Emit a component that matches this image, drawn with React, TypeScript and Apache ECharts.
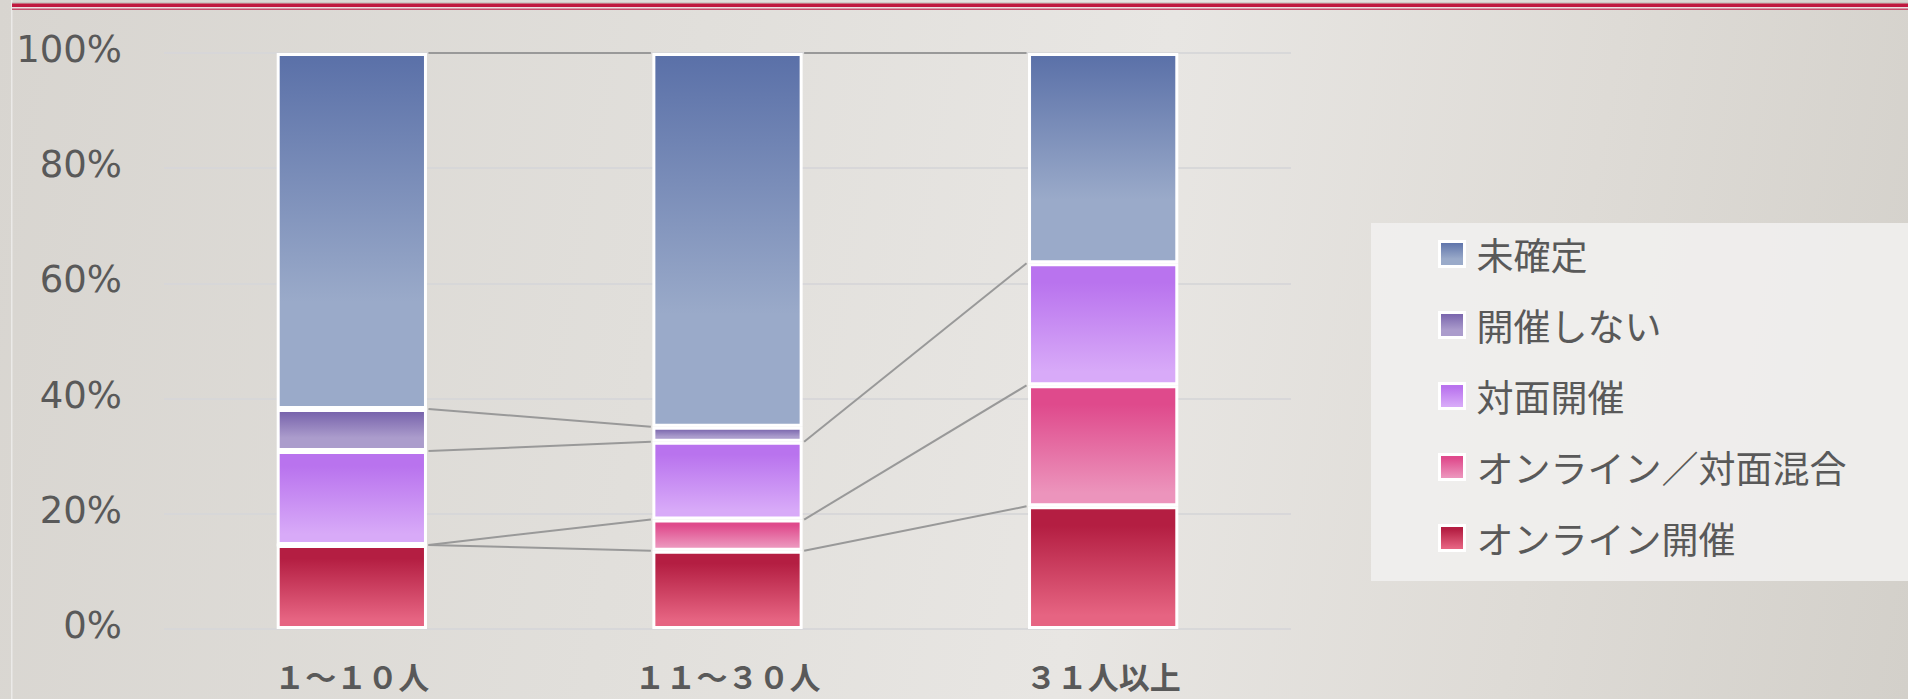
import React, { useEffect, useRef } from "react";
import * as echarts from "echarts";

const categories = ["１～１０人", "１１～３０人", "３１人以上"];
const onlineValues = [14.6, 13.6, 21.3];
const mixedValues = [0, 5.4, 21.0];
const inPersonValues = [16.3, 13.5, 21.2];
const notHeldValues: (number | null)[] = [7.3, 2.6, null];
const undecidedValues = [61.8, 64.9, 36.5];
const yTicks = [0, 20, 40, 60, 80, 100];

const seriesDefs = [
  { name: "オンライン開催", data: onlineValues, top: "#b41e42", bottom: "#e66482" },
  { name: "オンライン／対面混合", data: mixedValues, top: "#df4a8c", bottom: "#ec94bc" },
  { name: "対面開催", data: inPersonValues, top: "#b973ee", bottom: "#d8aaf8" },
  { name: "開催しない", data: notHeldValues, top: "#7560aa", bottom: "#ab9ccc" },
  { name: "未確定", data: undecidedValues, top: "#5a70a8", bottom: "#9aaac9" },
];

const legendOrder = ["未確定", "開催しない", "対面開催", "オンライン／対面混合", "オンライン開催"];

export default function App() {
  const ref = useRef<HTMLDivElement>(null);
  useEffect(() => {
    if (!ref.current) return;
    const chart = echarts.init(ref.current, undefined, { renderer: "svg" });

    const n = categories.length;
    const cum: number[][] = [];
    seriesDefs.forEach((s, k) => {
      const row: number[] = [];
      for (let i = 0; i < n; i++) {
        const prev = k > 0 ? cum[k - 1][i] : 0;
        const v = s.data[i];
        row.push(prev + (v == null ? 0 : v));
      }
      cum.push(row);
    });
    const lineData: number[][] = [];
    seriesDefs.forEach((s, k) => {
      for (let i = 0; i < n - 1; i++) {
        if (s.data[i] == null || s.data[i + 1] == null) continue;
        lineData.push([i, cum[k][i], i + 1, cum[k][i + 1]]);
      }
    });

    const barSeries = seriesDefs.map((s) => {
      const isTopGrad = s.name === "未確定" || s.name === "開催しない";
      return {
        name: s.name,
        type: "bar",
        stack: "total",
        barWidth: "40%",
        data: s.data,
        itemStyle: {
          color: new echarts.graphic.LinearGradient(0, 0, 0, 1, isTopGrad
            ? [
                { offset: 0, color: s.top },
                { offset: 0.7, color: s.bottom },
                { offset: 1, color: s.bottom },
              ]
            : [
                { offset: 0, color: s.top },
                { offset: 0.15, color: s.top },
                { offset: 0.9, color: s.bottom },
                { offset: 1, color: s.bottom },
              ]),
          borderColor: "#ffffff",
          borderWidth: 3,
        },
        z: 3,
      };
    });

    chart.setOption({
      animation: false,
      grid: { left: 164, right: 617, top: 53, bottom: 70 },
      graphic: [
        { type: "rect", left: 11, top: 0, shape: { width: 1.5, height: 699 }, style: { fill: "#ebeae8" }, z: -1 },
        { type: "rect", left: 12, top: 2.5, shape: { width: 1896, height: 1 }, style: { fill: "#b9b3b0" }, z: -1 },
        { type: "rect", left: 12, top: 3.5, shape: { width: 1896, height: 3.5 }, style: { fill: "#c0183f" }, z: -1 },
        { type: "rect", left: 12, top: 7, shape: { width: 1896, height: 1.5 }, style: { fill: "#eadfe1" }, z: -1 },
        { type: "rect", left: 12, top: 8.5, shape: { width: 1896, height: 1.5 }, style: { fill: "#c8506e" }, z: -1 },
        { type: "rect", left: 1371, top: 223, shape: { width: 537, height: 358 }, style: { fill: "rgba(241,240,238,0.9)" }, z: -1 },
      ],
      legend: {
        data: legendOrder,
        orient: "vertical",
        left: 1433,
        top: 229,
        itemWidth: 25,
        itemHeight: 25,
        itemGap: 31,
        icon: "rect",
        itemStyle: { borderColor: "#ffffff", borderWidth: 3 },
        textStyle: {
          fontFamily: "Noto Sans CJK JP",
          fontSize: 37,
          lineHeight: 40,
          color: "#595959",
          padding: [0, 0, 0, 7],
        },
      },
      xAxis: {
        type: "category",
        data: categories,
        axisLine: { show: false },
        axisTick: { show: false },
        axisLabel: {
          margin: 31,
          fontFamily: "Noto Sans CJK JP",
          fontSize: 31,
          fontWeight: "bold",
          lineHeight: 30,
          color: "#595959",
        },
      },
      yAxis: {
        type: "value",
        min: yTicks[0],
        max: yTicks[yTicks.length - 1],
        interval: 20,
        axisLine: { show: false },
        axisTick: { show: false },
        splitLine: { lineStyle: { color: "rgba(214,214,216,0.9)", width: 2 } },
        axisLabel: {
          formatter: "{value}%",
          margin: 42,
          fontFamily: "DejaVu Sans",
          fontSize: 37,
          color: "#595959",
          verticalAlign: "bottom",
          lineHeight: 7,
        },
      },
      series: [
        ...barSeries,
        {
          type: "custom",
          name: "connectors",
          data: lineData,
          encode: { x: 0, y: 1 },
          z: 2,
          silent: true,
          renderItem: (params: any, api: any) => {
            const p0 = api.coord([api.value(0), api.value(1)]);
            const p1 = api.coord([api.value(2), api.value(3)]);
            const half = api.size([1, 0])[0] * 0.2 + 1.5;
            return {
              type: "line",
              shape: { x1: p0[0] + half, y1: p0[1], x2: p1[0] - half, y2: p1[1] },
              style: { stroke: "#999999", lineWidth: 2 },
            };
          },
        },
      ],
    });
    return () => chart.dispose();
  }, []);

  return (
    <div
      ref={ref}
      style={{
        position: "fixed",
        left: 0,
        top: 0,
        width: 1908,
        height: 699,
        background:
          "linear-gradient(100deg, #d8d5d0 0%, #e1dfdb 35%, #e8e6e3 58%, #dedbd6 80%, #d3d0ca 100%)",
      }}
    />
  );
}
